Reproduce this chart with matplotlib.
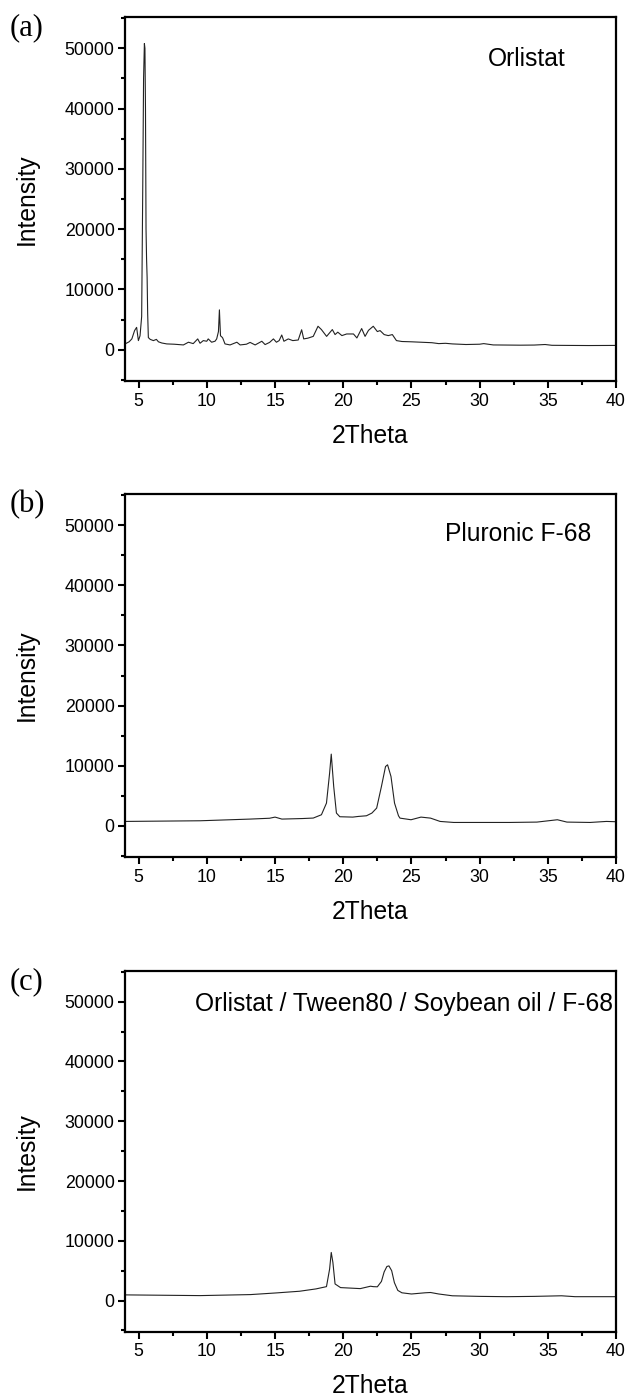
import matplotlib
matplotlib.use("Agg")
import matplotlib.pyplot as plt
from matplotlib.ticker import MultipleLocator

plt.rcParams['font.family'] = ['Liberation Sans', 'DejaVu Sans']

# --- data (2Theta in degrees, intensity in counts) ---
orlistat_x = [4.0, 4.3, 4.5, 4.7, 4.85, 4.98, 5.1, 5.22, 5.3, 5.36, 5.42, 5.46, 5.5,
              5.54, 5.58, 5.62, 5.66, 5.71, 5.85, 6.08, 6.3, 6.45, 6.7, 7.06, 7.6,
              8.28, 8.65, 9.0, 9.33, 9.5, 9.74, 9.99, 10.1, 10.35, 10.6, 10.72, 10.85,
              10.92, 11.0, 11.1, 11.16, 11.33, 11.7, 12.2, 12.44, 12.9, 13.17, 13.54,
              14.03, 14.27, 14.6, 14.88, 15.1, 15.3, 15.49, 15.65, 15.97, 16.3, 16.7,
              16.95, 17.1, 17.4, 17.8, 18.15, 18.4, 18.78, 19.2, 19.4, 19.6, 19.9,
              20.25, 20.75, 21.0, 21.35, 21.6, 21.85, 22.2, 22.5, 22.7, 23.0, 23.3,
              23.6, 23.9, 24.3, 25.0, 25.5, 26.0, 26.5, 27.0, 27.5, 28.0, 29.0, 30.0,
              30.3, 31.0, 32.0, 33.0, 34.0, 34.8, 35.3, 36.5, 38.0, 40.0]
orlistat_y = [950, 1300, 1780, 3160, 3700, 1500, 2300, 5500, 27000, 45000, 50800, 50000,
              40000, 20000, 15000, 12000, 6000, 2000, 1700, 1500, 1700, 1300, 1100, 950,
              900, 780, 1230, 1000, 1780, 1060, 1500, 1390, 1780, 1230, 1400, 1780, 3000,
              6600, 2300, 2100, 1940, 950, 780, 1230, 780, 900, 1200, 780, 1390, 840,
              1200, 1780, 1230, 1500, 2430, 1390, 1780, 1500, 1600, 3300, 1780, 1900,
              2200, 3880, 3330, 2200, 3330, 2500, 2900, 2330, 2600, 2600, 1940, 3500,
              2200, 3200, 3880, 3000, 3160, 2500, 2330, 2500, 1500, 1350, 1300, 1250,
              1200, 1150, 1000, 1050, 950, 850, 900, 1000, 780, 760, 740, 760, 850, 720,
              700, 680, 700]

pluronic_x = [4.0, 6.0, 9.5, 13.16, 14.6, 15.0, 15.5, 17.0, 17.8, 18.4, 18.77, 19.0,
              19.12, 19.3, 19.5, 19.75, 20.7, 21.1, 21.7, 22.1, 22.45, 22.8, 23.1,
              23.25, 23.5, 23.76, 24.05, 24.16, 24.97, 25.7, 26.4, 27.1, 28.1, 29.8,
              32.2, 34.2, 35.7, 36.4, 38.1, 39.3, 40.0]
pluronic_y = [720, 760, 830, 1110, 1250, 1440, 1110, 1200, 1280, 1830, 3770, 8760,
              11920, 6540, 2110, 1500, 1440, 1550, 1660, 2110, 2940, 6540, 9860,
              10140, 8200, 3770, 1660, 1270, 1000, 1440, 1270, 720, 550, 550,
              550, 610, 1000, 610, 550, 720, 670]

mixture_x = [4.0, 9.5, 13.2, 15.1, 16.8, 18.0, 18.77, 19.0, 19.12, 19.24, 19.4, 19.8,
             21.25, 22.0, 22.2, 22.5, 22.8, 23.0, 23.2, 23.35, 23.55, 23.75, 24.0,
             24.3, 25.0, 26.0, 26.4, 27.0, 28.0, 30.0, 32.0, 34.0, 36.0, 37.0, 40.0]
mixture_y = [950, 830, 1000, 1280, 1560, 1950, 2330, 5270, 8050, 6390, 2780, 2170,
             2000, 2400, 2330, 2300, 3200, 4800, 5700, 5800, 5000, 3000, 1700,
             1300, 1100, 1300, 1350, 1100, 800, 700, 650, 700, 800, 650, 650]

panels = [
    ("(a)", orlistat_x, orlistat_y, "Orlistat", "Intensity", 0.7271, 0.2607, 0.897, 0.918),
    ("(b)", pluronic_x, pluronic_y, "Pluronic F-68", "Intensity", 0.3861, 0.2600, 0.949, 0.924),
    ("(c)", mixture_x, mixture_y, "Orlistat / Tween80 / Soybean oil / F-68", "Intesity",
     0.0461, 0.2586, 0.994, 0.942),
]

fig = plt.figure(figsize=(6.27, 13.96), dpi=100)

for tag, xs, ys, name, ylab, bottom, height, tx, ty in panels:
    ax = fig.add_axes([0.1994, bottom, 0.7831, height])
    ax.plot(xs, ys, color="#222222", lw=0.8)
    ax.set_xlim(4, 40)
    ax.set_ylim(-5200, 55200)
    ax.xaxis.set_major_locator(MultipleLocator(5))
    ax.xaxis.set_minor_locator(MultipleLocator(2.5))
    ax.yaxis.set_major_locator(MultipleLocator(10000))
    ax.yaxis.set_minor_locator(MultipleLocator(5000))
    ax.set_yticks([0, 10000, 20000, 30000, 40000, 50000])
    ax.tick_params(which="both", direction="out", top=False, right=False, width=1.5)
    ax.tick_params(which="major", length=5, labelsize=12.8)
    ax.tick_params(which="minor", length=2.8)
    ax.tick_params(axis="x", pad=3.5)
    ax.tick_params(axis="y", pad=2.5)
    for sp in ax.spines.values():
        sp.set_linewidth(1.6)
    ax.set_xlabel("2Theta", fontsize=17.7, labelpad=10)
    ax.set_ylabel(ylab, fontsize=17.7, labelpad=19)
    ax.text(tx, ty, name, transform=ax.transAxes, ha="right", va="top", fontsize=17.7)
    # panel letter sits just left of the axes top
    top_px = (1 - bottom - height) * 1396
    fig.text(10 / 627, 1 - (top_px + 11) / 1396, tag, fontsize=22,
             family="Liberation Serif", ha="left", va="center")

fig.savefig("out.png", dpi=100)
